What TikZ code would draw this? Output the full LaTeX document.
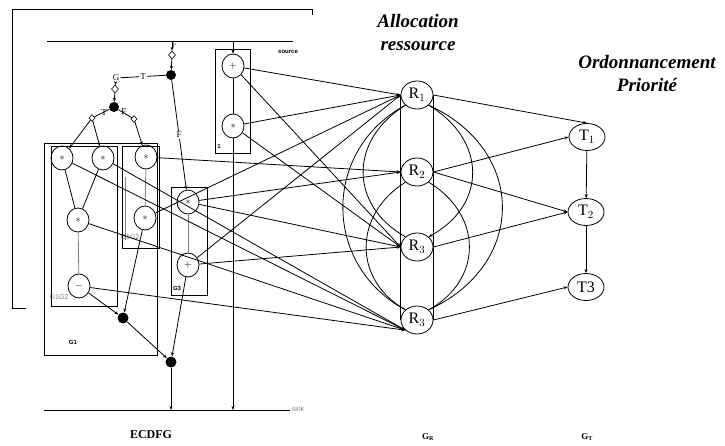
\documentclass[tikz,border=0pt]{standalone}
\usepackage{fontspec}
\setmainfont{Liberation Serif}
\setsansfont{Liberation Sans}
\usetikzlibrary{arrows.meta,shapes.geometric}
\begin{document}
\begin{tikzpicture}[x=1pt,y=-1pt,
  lw/.style={line width=0.8pt},
  op/.style={draw, line width=0.8pt, ellipse, minimum width=22pt, minimum height=24pt, inner sep=0pt, font=\fontsize{10}{10}\selectfont},
  res/.style={draw, line width=0.8pt, ellipse, minimum width=32pt, minimum height=28pt, inner sep=0pt, font=\fontsize{16}{16}\selectfont},
  task/.style={draw, line width=0.8pt, ellipse, minimum width=36pt, minimum height=27pt, inner sep=0pt, font=\fontsize{16}{16}\selectfont},
  blob/.style={fill, circle, inner sep=0pt, minimum size=10pt},
  cnd/.style={draw, diamond, inner sep=0pt, minimum width=7pt, minimum height=8pt, line width=0.6pt},
  grp/.style={draw, line width=0.9pt},
  lbl/.style={font=\sffamily\bfseries\fontsize{6}{6}\selectfont, inner sep=0pt},
  glbl/.style={font=\sffamily\fontsize{7}{7}\selectfont, text=gray, inner sep=0pt},
  smallt/.style={font=\fontsize{9}{9}\selectfont, inner sep=1pt},
  arr/.style={-{Stealth[length=4pt,width=3pt]}},
  conn/.style={line width=0.8pt, arr},
  greyline/.style={line width=0.8pt, draw=gray},
  head/.style={font=\bfseries\itshape\fontsize{19}{23}\selectfont, align=center}
]
\useasboundingbox (0,0) rectangle (725,445);

% outer bracket frame
\draw[lw] (26,308) -- (12,308) -- (12,9) -- (312,9) -- (312,15);

% source / sink
\draw[line width=1pt] (47,41) -- (293,41);
\draw[line width=1pt] (44,410) -- (290,410);
\node[lbl] at (288,52) {source};
\node[glbl] at (298,409) {sink};

% group boxes
\draw[grp] (44,143) rectangle (157,355);
\draw[grp] (51,146) rectangle (117,306);
\draw[grp] (122,146) rectangle (159,248);
\draw[grp] (171,187) rectangle (207,295);
\draw[grp] (215,49) rectangle (250,153);
\draw[greyline] (125,177) -- (125,240);
\node[lbl] at (73,342) {G1};
\node[glbl] at (59,297) {G1G2};
\node[glbl] at (130,237) {G1G2};
\node[lbl] at (177,288) {G3};
\node[lbl] at (219,146) {1};

% operation nodes
\node[op] (n1) at (62,158) {$\ast$};
\node[op] (n2) at (103,158) {$\ast$};
\node[op] (n3) at (146,157) {$\ast$};
\node[op] (n4) at (78,220) {$\ast$};
\node[op] (n5) at (145,218) {$\ast$};
\node[op] (n6) at (79,286) {$-$};
\node[op] (n7) at (188,202) {$\ast$};
\node[op] (n8) at (188,265) {$+$};
\node[op] (b1p) at (233,66) {$+$};
\node[op] (b1s) at (233,126) {$\ast$};

% control nodes
\coordinate (s1) at (172,41);
\coordinate (s2) at (233,41);
\coordinate (k1) at (171,410);
\coordinate (k2) at (233,410);
\node[cnd] (d1) at (172,55) {};
\node[blob] (f1) at (171,75) {};
\node[smallt] (Gn) at (116,78) {G};
\node[cnd] (d2) at (115,89) {};
\node[blob] (f2) at (114,107) {};
\node[cnd, minimum width=6pt, minimum height=7pt] (d3) at (92,118) {};
\node[cnd, minimum width=6pt, minimum height=7pt] (d4) at (134,119) {};
\node[blob, minimum size=11pt] (f3) at (123,318) {};
\node[blob, minimum size=11pt] (f4) at (171,362) {};
\node[smallt] at (174,45) {F};
\node[smallt] at (104,113) {T};
\node[smallt] at (124,112) {F};

% control edges
\draw[conn] (s1) -- (d1);
\draw[conn] (d1) -- (f1);
\draw[lw] (f1) -- node[smallt, fill=white] {T} (Gn);
\draw[conn] (Gn) -- (d2);
\draw[conn] (d2) -- (f2);
\draw[lw] (f2) -- (d3);
\draw[lw] (f2) -- (d4);
\draw[conn] (d3) -- (n1);
\draw[conn] (d3) -- (n2);
\draw[conn] (d4) -- (n3);
\draw[conn] (f1) -- node[smallt, fill=white, pos=0.5] {F} (n7);
\draw[conn] (s2) -- (b1p);

% data edges inside ECDFG
\draw[lw] (n1) -- (n4);
\draw[lw] (n2) -- (n4);
\draw[greyline] (n4) -- (n6);
\draw[greyline] (n3) -- (n5);
\draw[greyline] (n7) -- (n8);
\draw[lw] (b1p) -- (b1s);
\draw[conn] (n6) -- (f3);
\draw[conn] (n5) -- (f3);
\draw[conn] (f3) -- (f4);
\draw[conn] (n8) -- (f4);
\draw[conn] (f4) -- (k1);
\draw[conn] (b1s) -- (k2);

% resource nodes
\node[res] (R1) at (417,95) {R$_1$};
\node[res] (R2) at (417,172) {R$_2$};
\node[res] (R3) at (417,247) {R$_3$};
\node[res] (R4) at (417,320) {R$_3$};

\draw[lw] (R1.west) -- (R4.west);
\draw[lw] (R1.east) -- (R4.east);

% arcs between resources
\draw[lw] (R1.south west) .. controls (322,150) and (322,265) .. (R4.north west);
\draw[lw] (R1.south west) .. controls (349,140) and (349,205) .. (R3.north west);
\draw[lw] (R2.south west) .. controls (353,215) and (353,280) .. (R4.north west);
\draw[lw] (R1.south east) .. controls (527,150) and (527,265) .. (R4.north east);
\draw[lw, arr] (R1.south east) .. controls (487,140) and (487,205) .. (R3.north east);
\draw[lw] (R2.south east) .. controls (483,215) and (483,280) .. (R4.north east);

% ECDFG to resources
\draw[conn] (b1p) -- (R1.west);
\draw[conn] (b1s) -- (R1.west);
\draw[conn] (n5) -- (R1.west);
\draw[conn] (n8) -- (R1.west);
\draw[conn] (n3) -- (R2.west);
\draw[conn] (n7) -- (R2.west);
\draw[conn] (b1p) -- (R3.west);
\draw[conn] (b1s) -- (R3.west);
\draw[conn] (n7) -- (R3.west);
\draw[conn] (n8) -- (R3.west);
\draw[conn] (n1) -- (R4.south west);
\draw[conn] (n2) -- (R4.south west);
\draw[conn] (n4) -- (R4.south west);
\draw[conn] (n6) -- (R4.south west);

% task nodes
\node[task] (T1) at (587,137) {T$_1$};
\node[task] (T2) at (586,212) {T$_2$};
\node[task] (T3) at (586,287) {T3};

\draw[conn] (R1.east) -- (T1.north);
\draw[conn] (R2.east) -- (T1.west);
\draw[conn] (R2.east) -- (T2.west);
\draw[conn] (R3.east) -- (T2.west);
\draw[conn] (R4.east) -- (T3.west);
\draw[conn] (T1) -- (T2);
\draw[conn] (T2) -- (T3);

% headings
\node[head] at (418,33) {Allocation\\ressource};
\node[head] at (647,73) {Ordonnancement\\Priorité};

% bottom labels
\node[font=\bfseries\fontsize{12}{12}\selectfont] at (151,435) {ECDFG};
\node[font=\bfseries\fontsize{9}{9}\selectfont] at (428,437) {G$_{\mathbf{R}}$};
\node[font=\bfseries\fontsize{9}{9}\selectfont] at (587,437) {G$_{\mathbf{T}}$};
\end{tikzpicture}
\end{document}
